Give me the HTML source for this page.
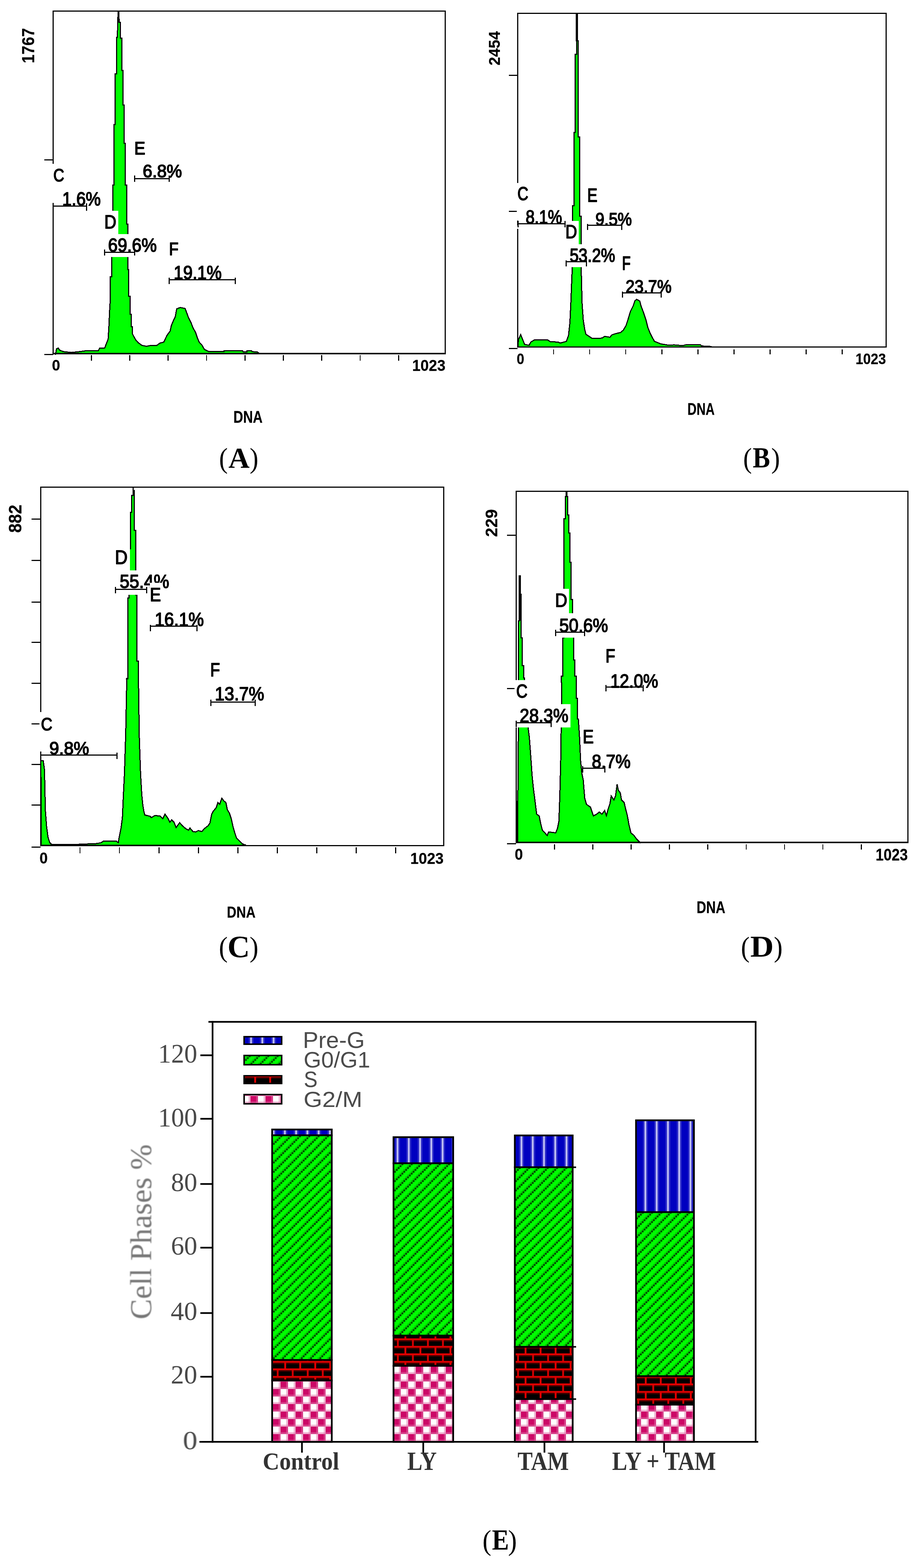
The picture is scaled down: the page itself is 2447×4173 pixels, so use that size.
<!DOCTYPE html>
<html lang="en"><head><meta charset="utf-8"><title>Cell cycle analysis</title>
<style>
html,body{margin:0;padding:0;background:#fff;}
body{width:2447px;height:4173px;overflow:hidden;}
svg{display:block;}
text{white-space:pre;}
</style></head><body>
<svg width="2447" height="4173" viewBox="0 0 2447 4173">
<rect width="2447" height="4173" fill="#fff"/>
<defs>
<pattern id="hatch" patternUnits="userSpaceOnUse" width="24.80" height="24.80" patternTransform="translate(726.72 3592.18)">
<rect width="24.80" height="24.80" fill="#00ff00"/>
<rect x="0.00" y="19.84" width="5.01" height="5.01" fill="#004e00"/><rect x="19.84" y="19.84" width="5.01" height="5.01" fill="#00d000"/><rect x="4.96" y="14.88" width="5.01" height="5.01" fill="#004e00"/><rect x="0.00" y="14.88" width="5.01" height="5.01" fill="#00d000"/><rect x="9.92" y="9.92" width="5.01" height="5.01" fill="#004e00"/><rect x="4.96" y="9.92" width="5.01" height="5.01" fill="#00d000"/><rect x="14.88" y="4.96" width="5.01" height="5.01" fill="#004e00"/><rect x="9.92" y="4.96" width="5.01" height="5.01" fill="#00d000"/><rect x="19.84" y="0.00" width="5.01" height="5.01" fill="#004e00"/><rect x="14.88" y="0.00" width="5.01" height="5.01" fill="#00d000"/>
</pattern>
<pattern id="check" patternUnits="userSpaceOnUse" width="40" height="40" patternTransform="translate(7 36.6)">
<rect width="40" height="40" fill="#fff"/>
<rect x="20" y="0" width="20" height="20" fill="#cc0866"/>
<rect x="0" y="20" width="20" height="20" fill="#cc0866"/>
<rect x="0" y="15" width="40" height="5" fill="#e070a8" fill-opacity="0.5"/><rect x="0" y="35" width="40" height="5" fill="#e070a8" fill-opacity="0.5"/><rect x="15" y="0" width="5" height="40" fill="#e070a8" fill-opacity="0.5"/><rect x="35" y="0" width="5" height="40" fill="#e070a8" fill-opacity="0.5"/>
</pattern>
<pattern id="brick" patternUnits="userSpaceOnUse" width="40" height="40" patternTransform="translate(0 21.8)">
<rect width="40" height="40" fill="#000"/>
<rect x="0" y="0" width="40" height="5" fill="#d80000"/>
<rect x="0" y="5" width="40" height="4" fill="#3a0000"/>
<rect x="0" y="20" width="40" height="5" fill="#e00000"/>
<rect x="0" y="25" width="40" height="4" fill="#3a0000"/>
<rect x="36.9" y="5" width="5" height="15" fill="#e00000"/>
<rect x="-3.1" y="5" width="5" height="15" fill="#e00000"/>
<rect x="16.9" y="25" width="5" height="15" fill="#d00000"/>
</pattern>
<pattern id="blue" patternUnits="userSpaceOnUse" width="30" height="30" patternTransform="translate(6 0)">
<rect width="30" height="30" fill="#0000c0"/>
<rect x="0" y="0" width="5" height="30" fill="#b8b8f0"/>
<rect x="5" y="0" width="4" height="30" fill="#2c2cc8"/>
<rect x="-4" y="0" width="4" height="30" fill="#2c2cc8"/>
<rect x="26" y="0" width="4" height="30" fill="#2c2cc8"/>
</pattern>
<filter id="soft" x="-5%" y="-20%" width="110%" height="140%"><feGaussianBlur stdDeviation="2.2"/></filter>
</defs>
<g shape-rendering="crispEdges">
<polygon points="143.0,940.0 147.8,942.8 150.6,928.6 155.3,926.3 158.7,931.9 168.1,935.7 189.4,938.1 203.7,936.7 220.2,934.8 229.7,933.4 261.8,933.4 265.2,926.7 278.8,926.0 283.8,913.1 287.9,903.0 289.9,870.8 292.3,818.4 293.6,800.0 293.6,736.4 297.7,736.4 297.7,684.0 297.0,682.0 300.3,561.2 300.3,492.6 303.6,492.6 303.6,331.5 306.9,331.5 306.9,196.6 310.2,196.6 310.2,99.5 312.6,99.5 313.5,59.2 314.5,30.8 316.4,30.8 317.3,59.2 320.6,59.2 320.6,101.8 324.0,101.8 324.0,187.1 327.3,187.1 327.3,279.4 330.6,279.4 330.6,381.3 333.9,381.3 333.9,492.6 337.2,492.6 337.2,596.8 340.5,596.8 340.5,625.2 340.5,717.9 342.9,717.9 342.9,788.9 346.2,788.9 346.2,836.3 349.5,836.3 349.5,869.4 352.8,869.4 352.8,888.4 351.5,886.1 356.6,896.2 361.6,904.7 368.4,912.4 377.9,919.2 390.4,921.6 398.8,919.9 417.5,919.2 425.9,913.1 436.1,910.4 444.5,892.8 453.0,881.0 456.4,865.8 461.4,853.9 466.5,843.8 470.6,821.8 480.0,818.4 492.9,821.1 497.0,831.9 502.0,845.5 508.8,859.0 513.9,872.5 520.6,884.4 525.7,899.6 530.8,911.4 537.6,918.2 544.3,930.0 554.5,935.1 596.8,935.8 596.8,933.4 645.8,933.4 647.5,936.1 657.6,936.1 657.6,933.4 669.5,933.4 671.2,935.8 684.7,936.5 690.0,940.0" fill="#00ff00" stroke="#000" stroke-width="3" stroke-linejoin="miter"/>
<rect x="313.2" y="29.0" width="4.2" height="31.0" fill="#000"/>
<rect x="141.5" y="29.5" width="1043.8" height="911.5" fill="none" stroke="#000" stroke-width="3"/>
<line x1="140.0" y1="941.0" x2="1186.8" y2="941.0" stroke="#000" stroke-width="3.4"/>
<line x1="117.5" y1="425.0" x2="141.5" y2="425.0" stroke="#000" stroke-width="3"/>
<line x1="117.5" y1="943.5" x2="141.5" y2="943.5" stroke="#000" stroke-width="3"/>
<line x1="243.2" y1="945.0" x2="243.2" y2="960.0" stroke="#000" stroke-width="2.7"/><line x1="345.4" y1="945.0" x2="345.4" y2="960.0" stroke="#000" stroke-width="2.7"/><line x1="447.7" y1="945.0" x2="447.7" y2="960.0" stroke="#000" stroke-width="2.7"/><line x1="550.0" y1="945.0" x2="550.0" y2="960.0" stroke="#000" stroke-width="2.7"/><line x1="652.2" y1="945.0" x2="652.2" y2="960.0" stroke="#000" stroke-width="2.7"/><line x1="754.5" y1="945.0" x2="754.5" y2="960.0" stroke="#000" stroke-width="2.7"/><line x1="856.7" y1="945.0" x2="856.7" y2="960.0" stroke="#000" stroke-width="2.7"/><line x1="959.0" y1="945.0" x2="959.0" y2="960.0" stroke="#000" stroke-width="2.7"/><line x1="1061.2" y1="945.0" x2="1061.2" y2="960.0" stroke="#000" stroke-width="2.7"/>
<rect x="277.0" y="561.0" width="38.0" height="62.0" fill="#fff"/>
<rect x="277.0" y="623.0" width="143.0" height="61.0" fill="#fff"/>
<rect x="138.0" y="436.0" width="38.0" height="104.0" fill="#fff"/>
<line x1="358.5" y1="475.0" x2="450.9" y2="475.0" stroke="#000" stroke-width="3"/><line x1="358.5" y1="466.5" x2="358.5" y2="483.5" stroke="#000" stroke-width="3"/><line x1="450.9" y1="466.5" x2="450.9" y2="483.5" stroke="#000" stroke-width="3"/>
<line x1="141.5" y1="548.5" x2="230.7" y2="548.5" stroke="#000" stroke-width="3"/><line x1="141.5" y1="540.5" x2="141.5" y2="560.5" stroke="#000" stroke-width="3"/><line x1="230.7" y1="540.5" x2="230.7" y2="560.5" stroke="#000" stroke-width="3"/>
<line x1="278.0" y1="671.6" x2="358.5" y2="671.6" stroke="#000" stroke-width="3"/><line x1="278.0" y1="664.1" x2="278.0" y2="680.1" stroke="#000" stroke-width="3"/><line x1="358.5" y1="664.1" x2="358.5" y2="680.1" stroke="#000" stroke-width="3"/>
<line x1="450.9" y1="744.9" x2="626.6" y2="744.9" stroke="#000" stroke-width="3"/><line x1="450.9" y1="738.9" x2="450.9" y2="755.9" stroke="#000" stroke-width="3"/><line x1="626.6" y1="738.9" x2="626.6" y2="755.9" stroke="#000" stroke-width="3"/>
<text transform="matrix(0.20079 0 0 0.24225 141.99 482.52)" font-family='"Liberation Sans", Arial, sans-serif' font-size="200" fill="#000" stroke="#000" stroke-width="9.03" stroke-linejoin="round">C</text>
<text transform="matrix(0.22018 0 0 0.24275 357.48 411.00)" font-family='"Liberation Sans", Arial, sans-serif' font-size="200" fill="#000" stroke="#000" stroke-width="8.64" stroke-linejoin="round">E</text>
<text transform="matrix(0.22938 0 0 0.23662 380.01 472.13)" font-family='"Liberation Sans", Arial, sans-serif' font-size="200" fill="#000" stroke="#000" stroke-width="8.58" stroke-linejoin="round">6.8%</text>
<text transform="matrix(0.22488 0 0 0.24930 165.63 546.50)" font-family='"Liberation Sans", Arial, sans-serif' font-size="200" fill="#000" stroke="#000" stroke-width="8.44" stroke-linejoin="round">1.6%</text>
<text transform="matrix(0.22185 0 0 0.25072 277.85 607.60)" font-family='"Liberation Sans", Arial, sans-serif' font-size="200" fill="#000" stroke="#000" stroke-width="8.46" stroke-linejoin="round">D</text>
<text transform="matrix(0.22873 0 0 0.24648 287.71 670.11)" font-family='"Liberation Sans", Arial, sans-serif' font-size="200" fill="#000" stroke="#000" stroke-width="8.42" stroke-linejoin="round">69.6%</text>
<text transform="matrix(0.20714 0 0 0.24348 449.99 678.60)" font-family='"Liberation Sans", Arial, sans-serif' font-size="200" fill="#000" stroke="#000" stroke-width="8.88" stroke-linejoin="round">F</text>
<text transform="matrix(0.22514 0 0 0.24648 462.62 742.51)" font-family='"Liberation Sans", Arial, sans-serif' font-size="200" fill="#000" stroke="#000" stroke-width="8.48" stroke-linejoin="round">19.1%</text>
<text transform="matrix(0.19684 0 0 0.20493 138.28 985.84)" font-family='"Liberation Sans", Arial, sans-serif' font-size="200" font-weight="bold" fill="#000" stroke="#000" stroke-width="1.49" stroke-linejoin="round">0</text>
<text transform="matrix(0.19930 0 0 0.21127 1097.46 986.93)" font-family='"Liberation Sans", Arial, sans-serif' font-size="200" font-weight="bold" fill="#000" stroke="#000" stroke-width="1.46" stroke-linejoin="round">1023</text>
<text transform="matrix(0.17952 0 0 0.22101 621.52 1124.65)" font-family='"Liberation Sans", Arial, sans-serif' font-size="200" font-weight="bold" fill="#000" stroke="#000" stroke-width="1.50" stroke-linejoin="round">DNA</text>
<text transform="matrix(0 -0.21106 0.23028 0 91.39 168.38)" font-family='"Liberation Sans", Arial, sans-serif' font-size="200" font-weight="bold" fill="#000" stroke="#000" stroke-width="1.36" stroke-linejoin="round">1767</text>
<polygon points="1379.5,923.0 1380.2,904.7 1386.4,890.5 1392.1,904.7 1396.8,916.5 1408.7,918.9 1413.4,910.4 1422.9,904.7 1458.4,904.7 1465.5,909.4 1486.8,910.4 1491.5,913.2 1508.1,908.5 1513.8,892.8 1517.6,857.3 1520.0,805.2 1523.8,710.5 1524.7,648.9 1524.7,547.0 1528.0,547.0 1528.0,352.8 1531.8,352.8 1531.8,144.5 1535.1,144.5 1535.1,108.9 1539.9,108.9 1539.9,364.7 1543.6,364.7 1543.6,575.4 1547.0,575.4 1547.0,653.6 1547.4,710.5 1549.8,805.2 1553.1,852.6 1556.9,876.3 1560.2,889.5 1572.1,897.6 1576.8,900.9 1602.8,899.9 1610.0,895.2 1624.2,897.6 1628.9,891.4 1638.4,888.1 1652.6,884.8 1659.7,878.6 1666.8,866.8 1671.5,852.6 1678.6,828.9 1685.7,814.7 1690.5,800.5 1695.2,796.7 1703.7,801.4 1707.0,814.7 1714.1,833.6 1720.3,852.6 1725.0,871.5 1730.7,885.7 1737.8,899.9 1742.6,908.5 1759.1,915.1 1780.5,918.9 1794.7,917.9 1818.3,919.8 1825.4,917.9 1865.7,917.9 1868.1,920.8 1889.4,921.7 1895.0,923.0" fill="#00ff00" stroke="#000" stroke-width="3" stroke-linejoin="miter"/>
<rect x="1533.2" y="35.0" width="5.8" height="75.0" fill="#000"/>
<rect x="1378" y="35.5" width="981.5999999999999" height="888.0" fill="none" stroke="#000" stroke-width="3"/>
<line x1="1376.5" y1="923.5" x2="2361.1" y2="923.5" stroke="#000" stroke-width="3.4"/>
<line x1="1355.0" y1="200.3" x2="1378.0" y2="200.3" stroke="#000" stroke-width="3"/>
<line x1="1355.0" y1="562.7" x2="1376.0" y2="562.7" stroke="#000" stroke-width="3"/>
<line x1="1355.0" y1="927.4" x2="1378.0" y2="927.4" stroke="#000" stroke-width="3"/>
<line x1="1474.0" y1="930.0" x2="1474.0" y2="943.0" stroke="#000" stroke-width="2.7"/><line x1="1570.0" y1="930.0" x2="1570.0" y2="943.0" stroke="#000" stroke-width="2.7"/><line x1="1666.1" y1="930.0" x2="1666.1" y2="943.0" stroke="#000" stroke-width="2.7"/><line x1="1762.2" y1="930.0" x2="1762.2" y2="943.0" stroke="#000" stroke-width="2.7"/><line x1="1858.2" y1="930.0" x2="1858.2" y2="943.0" stroke="#000" stroke-width="2.7"/><line x1="1954.2" y1="930.0" x2="1954.2" y2="943.0" stroke="#000" stroke-width="2.7"/><line x1="2050.3" y1="930.0" x2="2050.3" y2="943.0" stroke="#000" stroke-width="2.7"/><line x1="2146.3" y1="930.0" x2="2146.3" y2="943.0" stroke="#000" stroke-width="2.7"/><line x1="2242.4" y1="930.0" x2="2242.4" y2="943.0" stroke="#000" stroke-width="2.7"/>
<rect x="1375.8" y="487.0" width="36.2" height="100.0" fill="#fff"/>
<rect x="1370.0" y="600.0" width="15.0" height="9.0" fill="#fff"/>
<rect x="1505.0" y="588.0" width="36.0" height="62.0" fill="#fff"/>
<rect x="1505.0" y="650.0" width="135.0" height="61.0" fill="#fff"/>
<line x1="1379.0" y1="595.8" x2="1504.8" y2="595.8" stroke="#000" stroke-width="3"/><line x1="1379.0" y1="587.8" x2="1379.0" y2="604.8" stroke="#000" stroke-width="3"/><line x1="1504.8" y1="587.8" x2="1504.8" y2="604.8" stroke="#000" stroke-width="3"/>
<line x1="1564.0" y1="599.6" x2="1655.0" y2="599.6" stroke="#000" stroke-width="3"/><line x1="1564.0" y1="595.6" x2="1564.0" y2="611.6" stroke="#000" stroke-width="3"/><line x1="1655.0" y1="595.6" x2="1655.0" y2="611.6" stroke="#000" stroke-width="3"/>
<line x1="1507.2" y1="696.3" x2="1561.2" y2="696.3" stroke="#000" stroke-width="3"/><line x1="1507.2" y1="693.3" x2="1507.2" y2="709.3" stroke="#000" stroke-width="3"/><line x1="1561.2" y1="693.3" x2="1561.2" y2="709.3" stroke="#000" stroke-width="3"/>
<line x1="1657.3" y1="779.0" x2="1760.0" y2="779.0" stroke="#000" stroke-width="3"/><line x1="1657.3" y1="776.0" x2="1657.3" y2="791.5" stroke="#000" stroke-width="3"/><line x1="1760.0" y1="776.0" x2="1760.0" y2="791.5" stroke="#000" stroke-width="3"/>
<text transform="matrix(0.20079 0 0 0.24648 1377.79 532.51)" font-family='"Liberation Sans", Arial, sans-serif' font-size="200" fill="#000" stroke="#000" stroke-width="8.94" stroke-linejoin="round">C</text>
<text transform="matrix(0.20183 0 0 0.25000 1563.77 536.50)" font-family='"Liberation Sans", Arial, sans-serif' font-size="200" fill="#000" stroke="#000" stroke-width="8.85" stroke-linejoin="round">E</text>
<text transform="matrix(0.21295 0 0 0.24648 1399.68 594.51)" font-family='"Liberation Sans", Arial, sans-serif' font-size="200" fill="#000" stroke="#000" stroke-width="8.71" stroke-linejoin="round">8.1%</text>
<text transform="matrix(0.21295 0 0 0.24296 1585.38 600.01)" font-family='"Liberation Sans", Arial, sans-serif' font-size="200" fill="#000" stroke="#000" stroke-width="8.77" stroke-linejoin="round">9.5%</text>
<text transform="matrix(0.21513 0 0 0.25290 1505.56 633.60)" font-family='"Liberation Sans", Arial, sans-serif' font-size="200" fill="#000" stroke="#000" stroke-width="8.55" stroke-linejoin="round">D</text>
<text transform="matrix(0.21341 0 0 0.24577 1516.89 697.11)" font-family='"Liberation Sans", Arial, sans-serif' font-size="200" fill="#000" stroke="#000" stroke-width="8.71" stroke-linejoin="round">53.2%</text>
<text transform="matrix(0.18673 0 0 0.25000 1656.31 717.50)" font-family='"Liberation Sans", Arial, sans-serif' font-size="200" fill="#000" stroke="#000" stroke-width="9.16" stroke-linejoin="round">F</text>
<text transform="matrix(0.21600 0 0 0.23944 1665.64 779.12)" font-family='"Liberation Sans", Arial, sans-serif' font-size="200" fill="#000" stroke="#000" stroke-width="8.78" stroke-linejoin="round">23.7%</text>
<text transform="matrix(0.18105 0 0 0.20493 1375.70 969.04)" font-family='"Liberation Sans", Arial, sans-serif' font-size="200" font-weight="bold" fill="#000" stroke="#000" stroke-width="1.55" stroke-linejoin="round">0</text>
<text transform="matrix(0.18239 0 0 0.20563 2277.96 969.44)" font-family='"Liberation Sans", Arial, sans-serif' font-size="200" font-weight="bold" fill="#000" stroke="#000" stroke-width="1.55" stroke-linejoin="round">1023</text>
<text transform="matrix(0.16699 0 0 0.21739 1830.58 1104.35)" font-family='"Liberation Sans", Arial, sans-serif' font-size="200" font-weight="bold" fill="#000" stroke="#000" stroke-width="1.56" stroke-linejoin="round">DNA</text>
<text transform="matrix(0 -0.20526 0.21268 0 1330.92 174.29)" font-family='"Liberation Sans", Arial, sans-serif' font-size="200" font-weight="bold" fill="#000" stroke="#000" stroke-width="1.44" stroke-linejoin="round">2454</text>
<polygon points="109.5,2249.0 108.9,2024.7 115.1,2024.7 118.4,2048.4 120.8,2157.3 124.1,2199.9 127.9,2228.4 132.6,2242.6 137.3,2247.3 203.7,2247.3 258.1,2244.9 270.0,2242.6 274.7,2238.8 310.2,2238.8 315.0,2242.6 316.4,2233.1 322.1,2204.7 325.9,2176.3 328.2,2124.2 331.5,2055.5 334.8,1948.9 337.7,1804.5 336.7,1806.5 340.1,1806.5 340.1,1591.0 343.4,1591.0 343.4,1460.8 347.2,1460.8 347.2,1363.7 350.5,1363.7 350.5,1318.7 354.3,1318.7 354.3,1297.4 354.3,1305.4 357.5,1305.4 357.5,1411.0 361.8,1411.0 361.8,1583.0 364.7,1583.0 364.7,1759.1 368.0,1759.1 368.0,1759.5 370.8,1958.4 374.2,2057.9 377.5,2114.7 380.3,2143.1 383.6,2162.0 386.0,2169.2 400.2,2172.5 402.6,2176.3 412.0,2170.6 426.3,2171.5 433.4,2178.6 439.5,2166.8 447.6,2178.6 452.3,2188.1 457.0,2181.9 463.2,2188.1 468.9,2202.3 478.4,2189.5 485.5,2197.6 494.9,2205.6 502.0,2209.4 505.8,2203.7 513.9,2213.2 521.0,2214.1 528.1,2210.4 537.6,2213.2 543.7,2205.6 554.1,2197.6 558.9,2190.5 563.6,2166.8 568.3,2158.3 575.4,2150.2 580.2,2136.0 584.9,2140.7 590.6,2124.2 595.8,2131.3 601.5,2136.0 605.3,2154.9 611.0,2164.4 615.7,2178.6 620.4,2199.9 625.2,2216.5 629.9,2230.7 637.0,2237.8 644.1,2244.9 651.2,2248.2 655.0,2249.0" fill="#00ff00" stroke="#000" stroke-width="3" stroke-linejoin="miter"/>
<rect x="108" y="1296" width="1073.8" height="954.5" fill="none" stroke="#000" stroke-width="3"/>
<line x1="106.5" y1="2250.5" x2="1183.3" y2="2250.5" stroke="#000" stroke-width="3.4"/>
<line x1="83.8" y1="1381.7" x2="108.0" y2="1381.7" stroke="#000" stroke-width="3"/>
<line x1="83.8" y1="1491.5" x2="108.0" y2="1491.5" stroke="#000" stroke-width="3"/>
<line x1="83.8" y1="1602.4" x2="108.0" y2="1602.4" stroke="#000" stroke-width="3"/>
<line x1="83.8" y1="1709.9" x2="108.0" y2="1709.9" stroke="#000" stroke-width="3"/>
<line x1="83.8" y1="1818.0" x2="108.0" y2="1818.0" stroke="#000" stroke-width="3"/>
<line x1="83.8" y1="1926.6" x2="108.0" y2="1926.6" stroke="#000" stroke-width="3"/>
<line x1="83.8" y1="2034.2" x2="108.0" y2="2034.2" stroke="#000" stroke-width="3"/>
<line x1="83.8" y1="2142.6" x2="108.0" y2="2142.6" stroke="#000" stroke-width="3"/>
<line x1="83.8" y1="2254.4" x2="108.0" y2="2254.4" stroke="#000" stroke-width="3"/>
<line x1="213.1" y1="2255.0" x2="213.1" y2="2271.0" stroke="#000" stroke-width="2.7"/><line x1="318.1" y1="2255.0" x2="318.1" y2="2271.0" stroke="#000" stroke-width="2.7"/><line x1="423.2" y1="2255.0" x2="423.2" y2="2271.0" stroke="#000" stroke-width="2.7"/><line x1="528.2" y1="2255.0" x2="528.2" y2="2271.0" stroke="#000" stroke-width="2.7"/><line x1="633.3" y1="2255.0" x2="633.3" y2="2271.0" stroke="#000" stroke-width="2.7"/><line x1="738.4" y1="2255.0" x2="738.4" y2="2271.0" stroke="#000" stroke-width="2.7"/><line x1="843.4" y1="2255.0" x2="843.4" y2="2271.0" stroke="#000" stroke-width="2.7"/><line x1="948.5" y1="2255.0" x2="948.5" y2="2271.0" stroke="#000" stroke-width="2.7"/><line x1="1053.5" y1="2255.0" x2="1053.5" y2="2271.0" stroke="#000" stroke-width="2.7"/>
<rect x="305.0" y="1458.5" width="41.0" height="59.5" fill="#fff"/>
<rect x="305.0" y="1518.0" width="90.0" height="65.0" fill="#fff"/>
<rect x="105.0" y="1895.0" width="41.0" height="60.0" fill="#fff"/>
<rect x="100.0" y="1955.0" width="20.0" height="45.0" fill="#fff"/>
<line x1="83.8" y1="1926.6" x2="105.0" y2="1926.6" stroke="#000" stroke-width="3"/>
<line x1="307.8" y1="1568.5" x2="390.2" y2="1568.5" stroke="#000" stroke-width="3"/><line x1="307.8" y1="1561.5" x2="307.8" y2="1578.5" stroke="#000" stroke-width="3"/><line x1="390.2" y1="1561.5" x2="390.2" y2="1578.5" stroke="#000" stroke-width="3"/>
<line x1="400.2" y1="1666.0" x2="524.8" y2="1666.0" stroke="#000" stroke-width="3"/><line x1="400.2" y1="1662.5" x2="400.2" y2="1679.8" stroke="#000" stroke-width="3"/><line x1="524.8" y1="1662.5" x2="524.8" y2="1679.8" stroke="#000" stroke-width="3"/>
<line x1="561.2" y1="1868.0" x2="679.6" y2="1868.0" stroke="#000" stroke-width="3"/><line x1="561.2" y1="1862.0" x2="561.2" y2="1879.0" stroke="#000" stroke-width="3"/><line x1="679.6" y1="1862.0" x2="679.6" y2="1879.0" stroke="#000" stroke-width="3"/>
<line x1="108.0" y1="2009.0" x2="311.6" y2="2009.0" stroke="#000" stroke-width="3"/><line x1="108.0" y1="2003.0" x2="108.0" y2="2020.0" stroke="#000" stroke-width="3"/><line x1="311.6" y1="2003.0" x2="311.6" y2="2020.0" stroke="#000" stroke-width="3"/>
<text transform="matrix(0.23361 0 0 0.26087 306.06 1501.00)" font-family='"Liberation Sans", Arial, sans-serif' font-size="200" fill="#000" stroke="#000" stroke-width="8.09" stroke-linejoin="round">D</text>
<text transform="matrix(0.23243 0 0 0.24823 318.84 1564.90)" font-family='"Liberation Sans", Arial, sans-serif' font-size="200" fill="#000" stroke="#000" stroke-width="8.32" stroke-linejoin="round">55.4%</text>
<rect x="398.7" y="1550.6" width="33.8" height="52.4" fill="#fff"/>
<text transform="matrix(0.22110 0 0 0.25000 399.06 1599.50)" font-family='"Liberation Sans", Arial, sans-serif' font-size="200" fill="#000" stroke="#000" stroke-width="8.49" stroke-linejoin="round">E</text>
<text transform="matrix(0.23101 0 0 0.24930 411.93 1666.20)" font-family='"Liberation Sans", Arial, sans-serif' font-size="200" fill="#000" stroke="#000" stroke-width="8.33" stroke-linejoin="round">16.1%</text>
<text transform="matrix(0.21224 0 0 0.25290 559.80 1799.80)" font-family='"Liberation Sans", Arial, sans-serif' font-size="200" fill="#000" stroke="#000" stroke-width="8.60" stroke-linejoin="round">F</text>
<text transform="matrix(0.23211 0 0 0.24577 572.02 1864.21)" font-family='"Liberation Sans", Arial, sans-serif' font-size="200" fill="#000" stroke="#000" stroke-width="8.37" stroke-linejoin="round">13.7%</text>
<text transform="matrix(0.21102 0 0 0.24155 108.89 1943.52)" font-family='"Liberation Sans", Arial, sans-serif' font-size="200" fill="#000" stroke="#000" stroke-width="8.84" stroke-linejoin="round">C</text>
<text transform="matrix(0.23227 0 0 0.24225 131.51 2007.52)" font-family='"Liberation Sans", Arial, sans-serif' font-size="200" fill="#000" stroke="#000" stroke-width="8.43" stroke-linejoin="round">9.8%</text>
<text transform="matrix(0.19579 0 0 0.20845 105.18 2297.93)" font-family='"Liberation Sans", Arial, sans-serif' font-size="200" font-weight="bold" fill="#000" stroke="#000" stroke-width="1.48" stroke-linejoin="round">0</text>
<text transform="matrix(0.19930 0 0 0.21620 1092.56 2298.92)" font-family='"Liberation Sans", Arial, sans-serif' font-size="200" font-weight="bold" fill="#000" stroke="#000" stroke-width="1.44" stroke-linejoin="round">1023</text>
<text transform="matrix(0.17614 0 0 0.21087 604.06 2442.25)" font-family='"Liberation Sans", Arial, sans-serif' font-size="200" font-weight="bold" fill="#000" stroke="#000" stroke-width="1.55" stroke-linejoin="round">DNA</text>
<text transform="matrix(0 -0.22476 0.23803 0 57.17 1417.90)" font-family='"Liberation Sans", Arial, sans-serif' font-size="200" font-weight="bold" fill="#000" stroke="#000" stroke-width="1.30" stroke-linejoin="round">882</text>
<polygon points="1375.5,2241.0 1378.8,2131.3 1380.2,1950.0 1380.2,1652.6 1382.6,1652.6 1382.6,1532.8 1385.0,1532.8 1385.0,1581.5 1387.3,1581.5 1387.3,1697.6 1390.7,1697.6 1390.7,1771.0 1394.0,1771.0 1394.0,1804.1 1396.8,1804.1 1396.8,1865.7 1406.3,1937.1 1409.6,1963.1 1413.4,2015.2 1416.7,2062.6 1420.5,2100.5 1424.3,2128.9 1429.0,2166.8 1435.7,2171.5 1439.4,2190.5 1444.2,2209.4 1448.9,2214.1 1457.0,2223.6 1460.8,2214.1 1479.7,2216.5 1484.4,2204.7 1488.2,2185.7 1490.6,2119.4 1493.0,2024.7 1495.3,1858.9 1494.9,1799.4 1498.2,1799.4 1498.2,1697.6 1501.5,1697.6 1501.5,1380.2 1505.8,1380.2 1505.8,1321.0 1511.4,1321.0 1511.4,1370.8 1514.3,1370.8 1514.3,1418.1 1517.6,1418.1 1517.6,1496.3 1520.9,1496.3 1520.9,1595.7 1524.2,1595.7 1524.2,1632.7 1527.5,1699.9 1527.5,1756.8 1530.9,1756.8 1530.9,1799.4 1534.2,1799.4 1534.2,1858.6 1537.5,1858.6 1537.5,1913.1 1539.9,1913.1 1539.9,1913.4 1542.7,1953.7 1546.0,2024.7 1549.3,2057.9 1553.1,2076.8 1556.9,2124.2 1561.6,2140.7 1572.1,2147.8 1576.8,2162.0 1580.1,2171.5 1588.6,2166.8 1595.7,2161.1 1602.8,2166.8 1610.0,2157.3 1614.7,2170.6 1619.4,2152.6 1624.2,2138.4 1627.5,2118.5 1634.6,2128.9 1639.3,2117.1 1643.1,2087.2 1646.4,2102.8 1651.6,2110.0 1654.9,2128.9 1662.0,2136.0 1665.8,2152.6 1670.6,2171.5 1674.8,2195.2 1680.0,2216.5 1688.1,2223.6 1695.2,2233.1 1702.3,2240.2 1704.7,2242.6 1706.0,2241.0" fill="#00ff00" stroke="#000" stroke-width="3" stroke-linejoin="miter"/>
<rect x="1505.5" y="1308.0" width="5.5" height="14.0" fill="#000"/>
<rect x="1374.0" y="2131.0" width="6.0" height="111.0" fill="#000"/>
<rect x="1382.3" y="1532.0" width="2.9" height="49.0" fill="#000"/>
<rect x="1382.8" y="1581.0" width="5.8" height="71.0" fill="#000"/>
<rect x="1374.2" y="1307.8" width="1043.7" height="934.2" fill="none" stroke="#000" stroke-width="3"/>
<line x1="1372.7" y1="2242.0" x2="2419.4" y2="2242.0" stroke="#000" stroke-width="3.4"/>
<line x1="1350.4" y1="1424.3" x2="1374.2" y2="1424.3" stroke="#000" stroke-width="3"/>
<line x1="1350.4" y1="1832.6" x2="1374.2" y2="1832.6" stroke="#000" stroke-width="3"/>
<line x1="1350.4" y1="2245.9" x2="1374.2" y2="2245.9" stroke="#000" stroke-width="3"/>
<line x1="1476.4" y1="2247.0" x2="1476.4" y2="2260.5" stroke="#000" stroke-width="2.7"/><line x1="1578.5" y1="2247.0" x2="1578.5" y2="2260.5" stroke="#000" stroke-width="2.7"/><line x1="1680.6" y1="2247.0" x2="1680.6" y2="2260.5" stroke="#000" stroke-width="2.7"/><line x1="1782.7" y1="2247.0" x2="1782.7" y2="2260.5" stroke="#000" stroke-width="2.7"/><line x1="1884.8" y1="2247.0" x2="1884.8" y2="2260.5" stroke="#000" stroke-width="2.7"/><line x1="1986.9" y1="2247.0" x2="1986.9" y2="2260.5" stroke="#000" stroke-width="2.7"/><line x1="2089.0" y1="2247.0" x2="2089.0" y2="2260.5" stroke="#000" stroke-width="2.7"/><line x1="2191.1" y1="2247.0" x2="2191.1" y2="2260.5" stroke="#000" stroke-width="2.7"/><line x1="2293.2" y1="2247.0" x2="2293.2" y2="2260.5" stroke="#000" stroke-width="2.7"/>
<rect x="1477.0" y="1567.0" width="38.0" height="65.0" fill="#fff"/>
<rect x="1477.0" y="1632.0" width="145.0" height="65.0" fill="#fff"/>
<rect x="1370.0" y="1810.0" width="37.0" height="64.0" fill="#fff"/>
<rect x="1370.0" y="1874.0" width="149.0" height="62.0" fill="#fff"/>
<line x1="1350.4" y1="1832.6" x2="1370.0" y2="1832.6" stroke="#000" stroke-width="3"/>
<line x1="1479.7" y1="1682.0" x2="1556.4" y2="1682.0" stroke="#000" stroke-width="3"/><line x1="1479.7" y1="1676.0" x2="1479.7" y2="1693.0" stroke="#000" stroke-width="3"/><line x1="1556.4" y1="1676.0" x2="1556.4" y2="1693.0" stroke="#000" stroke-width="3"/>
<line x1="1613.3" y1="1828.8" x2="1712.7" y2="1828.8" stroke="#000" stroke-width="3"/><line x1="1613.3" y1="1822.8" x2="1613.3" y2="1839.8" stroke="#000" stroke-width="3"/><line x1="1712.7" y1="1822.8" x2="1712.7" y2="1839.8" stroke="#000" stroke-width="3"/>
<line x1="1374.0" y1="1923.5" x2="1467.0" y2="1923.5" stroke="#000" stroke-width="3"/><line x1="1374.0" y1="1917.5" x2="1374.0" y2="1934.5" stroke="#000" stroke-width="3"/><line x1="1467.0" y1="1917.5" x2="1467.0" y2="1934.5" stroke="#000" stroke-width="3"/>
<line x1="1551.7" y1="2044.6" x2="1610.9" y2="2044.6" stroke="#000" stroke-width="3"/><line x1="1551.7" y1="2038.6" x2="1551.7" y2="2055.6" stroke="#000" stroke-width="3"/><line x1="1610.9" y1="2038.6" x2="1610.9" y2="2055.6" stroke="#000" stroke-width="3"/>
<text transform="matrix(0.22521 0 0 0.25362 1478.10 1615.00)" font-family='"Liberation Sans", Arial, sans-serif' font-size="200" fill="#000" stroke="#000" stroke-width="8.35" stroke-linejoin="round">D</text>
<text transform="matrix(0.22917 0 0 0.25282 1489.17 1681.89)" font-family='"Liberation Sans", Arial, sans-serif' font-size="200" fill="#000" stroke="#000" stroke-width="8.30" stroke-linejoin="round">50.6%</text>
<text transform="matrix(0.21122 0 0 0.25000 1612.32 1762.90)" font-family='"Liberation Sans", Arial, sans-serif' font-size="200" fill="#000" stroke="#000" stroke-width="8.67" stroke-linejoin="round">F</text>
<text transform="matrix(0.22477 0 0 0.24859 1625.13 1829.50)" font-family='"Liberation Sans", Arial, sans-serif' font-size="200" fill="#000" stroke="#000" stroke-width="8.45" stroke-linejoin="round">12.0%</text>
<text transform="matrix(0.20866 0 0 0.24577 1374.41 1857.11)" font-family='"Liberation Sans", Arial, sans-serif' font-size="200" fill="#000" stroke="#000" stroke-width="8.80" stroke-linejoin="round">C</text>
<text transform="matrix(0.22891 0 0 0.25000 1383.71 1922.00)" font-family='"Liberation Sans", Arial, sans-serif' font-size="200" fill="#000" stroke="#000" stroke-width="8.35" stroke-linejoin="round">28.3%</text>
<text transform="matrix(0.22018 0 0 0.24928 1551.48 1978.20)" font-family='"Liberation Sans", Arial, sans-serif' font-size="200" fill="#000" stroke="#000" stroke-width="8.52" stroke-linejoin="round">E</text>
<text transform="matrix(0.22682 0 0 0.25352 1575.76 2044.49)" font-family='"Liberation Sans", Arial, sans-serif' font-size="200" fill="#000" stroke="#000" stroke-width="8.33" stroke-linejoin="round">8.7%</text>
<text transform="matrix(0.19684 0 0 0.20915 1370.58 2288.43)" font-family='"Liberation Sans", Arial, sans-serif' font-size="200" font-weight="bold" fill="#000" stroke="#000" stroke-width="1.48" stroke-linejoin="round">0</text>
<text transform="matrix(0.19272 0 0 0.22324 2331.44 2289.90)" font-family='"Liberation Sans", Arial, sans-serif' font-size="200" font-weight="bold" fill="#000" stroke="#000" stroke-width="1.44" stroke-linejoin="round">1023</text>
<text transform="matrix(0.17663 0 0 0.21957 1854.85 2430.45)" font-family='"Liberation Sans", Arial, sans-serif' font-size="200" font-weight="bold" fill="#000" stroke="#000" stroke-width="1.51" stroke-linejoin="round">DNA</text>
<text transform="matrix(0 -0.22163 0.22465 0 1324.20 1429.00)" font-family='"Liberation Sans", Arial, sans-serif' font-size="200" font-weight="bold" fill="#000" stroke="#000" stroke-width="1.34" stroke-linejoin="round">229</text>
</g>
<line x1="566.0" y1="2717.3" x2="566.0" y2="3839.5" stroke="#000" stroke-width="4.5"/>
<line x1="555.0" y1="2719.5" x2="2014.2" y2="2719.5" stroke="#000" stroke-width="4.5"/>
<line x1="2012.0" y1="2719.5" x2="2012.0" y2="3839.3" stroke="#000" stroke-width="4.5"/>
<line x1="531.0" y1="3837.3" x2="2019.0" y2="3837.3" stroke="#000" stroke-width="4.5"/>
<line x1="533.5" y1="2808.4" x2="566.0" y2="2808.4" stroke="#000" stroke-width="4.5"/>
<line x1="533.5" y1="2977.5" x2="566.0" y2="2977.5" stroke="#000" stroke-width="4.5"/>
<line x1="533.5" y1="3151.0" x2="566.0" y2="3151.0" stroke="#000" stroke-width="4.5"/>
<line x1="533.5" y1="3320.5" x2="566.0" y2="3320.5" stroke="#000" stroke-width="4.5"/>
<line x1="533.5" y1="3494.5" x2="566.0" y2="3494.5" stroke="#000" stroke-width="4.5"/>
<line x1="533.5" y1="3664.0" x2="566.0" y2="3664.0" stroke="#000" stroke-width="4.5"/>
<line x1="804.0" y1="3837.3" x2="804.0" y2="3866.0" stroke="#000" stroke-width="4.5"/>
<line x1="1127.0" y1="3837.3" x2="1127.0" y2="3866.0" stroke="#000" stroke-width="4.5"/>
<line x1="1449.7" y1="3837.3" x2="1449.7" y2="3866.0" stroke="#000" stroke-width="4.5"/>
<line x1="1768.2" y1="3837.3" x2="1768.2" y2="3866.0" stroke="#000" stroke-width="4.5"/>
<rect x="724.6" y="3006.0" width="158.8" height="15.5" fill="url(#blue)" stroke="#000" stroke-width="4.6"/>
<rect x="724.6" y="3021.5" width="158.8" height="597.8" fill="url(#hatch)" stroke="#000" stroke-width="4.6"/>
<rect x="724.6" y="3619.3" width="158.8" height="54.7" fill="url(#brick)" stroke="#000" stroke-width="4.6"/>
<rect x="724.6" y="3674.0" width="158.8" height="163.3" fill="url(#check)" stroke="#000" stroke-width="4.6"/>
<rect x="1047.8" y="3026.4" width="158.9" height="69.6" fill="url(#blue)" stroke="#000" stroke-width="4.6"/>
<rect x="1047.8" y="3096.0" width="158.9" height="458.5" fill="url(#hatch)" stroke="#000" stroke-width="4.6"/>
<rect x="1047.8" y="3554.5" width="158.9" height="80.5" fill="url(#brick)" stroke="#000" stroke-width="4.6"/>
<rect x="1047.8" y="3635.0" width="158.9" height="202.3" fill="url(#check)" stroke="#000" stroke-width="4.6"/>
<rect x="1370.8" y="3021.8" width="154.1" height="84.7" fill="url(#blue)" stroke="#000" stroke-width="4.6"/>
<rect x="1370.8" y="3106.5" width="154.1" height="477.9" fill="url(#hatch)" stroke="#000" stroke-width="4.6"/>
<rect x="1370.8" y="3584.4" width="154.1" height="139.1" fill="url(#brick)" stroke="#000" stroke-width="4.6"/>
<rect x="1370.8" y="3723.5" width="154.1" height="113.8" fill="url(#check)" stroke="#000" stroke-width="4.6"/>
<rect x="1693.5" y="2981.5" width="154.2" height="244.5" fill="url(#blue)" stroke="#000" stroke-width="4.6"/>
<rect x="1693.5" y="3226.0" width="154.2" height="436.6" fill="url(#hatch)" stroke="#000" stroke-width="4.6"/>
<rect x="1693.5" y="3662.6" width="154.2" height="75.7" fill="url(#brick)" stroke="#000" stroke-width="4.6"/>
<rect x="1693.5" y="3738.3" width="154.2" height="99.0" fill="url(#check)" stroke="#000" stroke-width="4.6"/>
<line x1="1527.0" y1="3106.5" x2="1534.0" y2="3106.5" stroke="#000" stroke-width="4"/>
<line x1="1527.0" y1="3584.4" x2="1534.0" y2="3584.4" stroke="#000" stroke-width="4"/>
<line x1="1527.0" y1="3723.5" x2="1534.0" y2="3723.5" stroke="#000" stroke-width="4"/>
<rect x="650" y="2759.0" width="100" height="20.0" fill="url(#blue)" stroke="#000" stroke-width="4"/>
<rect x="650" y="2809.0" width="100" height="24.6" fill="url(#hatch)" stroke="#000" stroke-width="4"/>
<rect x="650" y="2863.0" width="100" height="20.5" fill="url(#brick)" stroke="#000" stroke-width="4"/>
<rect x="650" y="2913.0" width="100" height="24.6" fill="url(#check)" stroke="#000" stroke-width="4"/>
<text transform="matrix(0.30875 0 0 0.30493 806.56 2788.99)" font-family='"Liberation Sans", Arial, sans-serif' font-size="200" fill="#4c4c4c" filter="url(#soft)">Pre-G</text>
<text transform="matrix(0.30088 0 0 0.29388 808.49 2841.41)" font-family='"Liberation Sans", Arial, sans-serif' font-size="200" fill="#4c4c4c" filter="url(#soft)">G0/G1</text>
<text transform="matrix(0.27391 0 0 0.29296 809.03 2893.01)" font-family='"Liberation Sans", Arial, sans-serif' font-size="200" fill="#4c4c4c" filter="url(#soft)">S</text>
<text transform="matrix(0.31991 0 0 0.28707 808.30 2946.03)" font-family='"Liberation Sans", Arial, sans-serif' font-size="200" fill="#4c4c4c" filter="url(#soft)">G2/M</text>
<text transform="matrix(0.34727 0 0 0.35556 421.10 2827.79)" font-family='"Liberation Serif", "Times New Roman", serif' font-size="200" fill="#484848" filter="url(#soft)">120</text>
<text transform="matrix(0.34727 0 0 0.35556 421.10 2997.79)" font-family='"Liberation Serif", "Times New Roman", serif' font-size="200" fill="#484848" filter="url(#soft)">100</text>
<text transform="matrix(0.35054 0 0 0.35185 455.20 3169.80)" font-family='"Liberation Serif", "Times New Roman", serif' font-size="200" fill="#484848" filter="url(#soft)">80</text>
<text transform="matrix(0.35054 0 0 0.35185 455.20 3338.80)" font-family='"Liberation Serif", "Times New Roman", serif' font-size="200" fill="#484848" filter="url(#soft)">60</text>
<text transform="matrix(0.35372 0 0 0.34815 454.59 3513.30)" font-family='"Liberation Serif", "Times New Roman", serif' font-size="200" fill="#484848" filter="url(#soft)">40</text>
<text transform="matrix(0.35246 0 0 0.34815 454.83 3682.30)" font-family='"Liberation Serif", "Times New Roman", serif' font-size="200" fill="#484848" filter="url(#soft)">20</text>
<text transform="matrix(0.38690 0 0 0.35185 486.90 3856.80)" font-family='"Liberation Serif", "Times New Roman", serif' font-size="200" fill="#484848" filter="url(#soft)">0</text>
<text transform="matrix(0 -0.40708 0.40493 0 402.29 3511.26)" font-family='"Liberation Serif", "Times New Roman", serif' font-size="200" fill="#767676" filter="url(#soft)">Cell Phases %</text>
<text transform="matrix(0.30724 0 0 0.32624 699.53 3911.35)" font-family='"Liberation Serif", "Times New Roman", serif' font-size="200" font-weight="bold" fill="#303030" filter="url(#soft)">Control</text>
<text transform="matrix(0.30237 0 0 0.35115 1084.59 3912.00)" font-family='"Liberation Serif", "Times New Roman", serif' font-size="200" font-weight="bold" fill="#303030" filter="url(#soft)">LY</text>
<text transform="matrix(0.30248 0 0 0.34545 1378.09 3912.00)" font-family='"Liberation Serif", "Times New Roman", serif' font-size="200" font-weight="bold" fill="#303030" filter="url(#soft)">TAM</text>
<text transform="matrix(0.30276 0 0 0.34545 1629.69 3912.00)" font-family='"Liberation Serif", "Times New Roman", serif' font-size="200" font-weight="bold" fill="#303030" filter="url(#soft)">LY + TAM</text>
<text transform="matrix(0.34951 0 0 0.38462 583.15 1245.46)" font-family='"Liberation Serif", "Times New Roman", serif' font-size="200" fill="#000"><tspan x="0" y="0">(</tspan><tspan x="71.72" y="-1.72" font-size="204.06" font-weight="bold" textLength="161.20" lengthAdjust="spacingAndGlyphs">A</tspan><tspan x="233.32" y="0">)</tspan></text>
<text transform="matrix(0.35049 0 0 0.37802 1978.85 1245.35)" font-family='"Liberation Serif", "Times New Roman", serif' font-size="200" fill="#000"><tspan x="0" y="0">(</tspan><tspan x="72.23" y="-2.74" font-size="207.22" font-weight="bold" textLength="131.85" lengthAdjust="spacingAndGlyphs">B</tspan><tspan x="212.99" y="0">)</tspan></text>
<text transform="matrix(0.35437 0 0 0.37857 582.71 2546.22)" font-family='"Liberation Serif", "Times New Roman", serif' font-size="200" fill="#000"><tspan x="0" y="0">(</tspan><tspan x="65.39" y="2.01" font-size="216.05" font-weight="bold" textLength="167.83" lengthAdjust="spacingAndGlyphs">C</tspan><tspan x="231.01" y="0">)</tspan></text>
<text transform="matrix(0.35049 0 0 0.37857 1972.85 2546.22)" font-family='"Liberation Serif", "Times New Roman", serif' font-size="200" fill="#000"><tspan x="0" y="0">(</tspan><tspan x="70.93" y="-0.58" font-size="209.71" font-weight="bold" textLength="177.96" lengthAdjust="spacingAndGlyphs">D</tspan><tspan x="250.37" y="0">)</tspan></text>
<text transform="matrix(0.35243 0 0 0.38132 1284.83 4124.60)" font-family='"Liberation Serif", "Times New Roman", serif' font-size="200" fill="#000"><tspan x="0" y="0">(</tspan><tspan x="71.37" y="-2.37" font-size="207.00" font-weight="bold" textLength="128.39" lengthAdjust="spacingAndGlyphs">E</tspan><tspan x="192.54" y="0">)</tspan></text>
</svg>
</body></html>
